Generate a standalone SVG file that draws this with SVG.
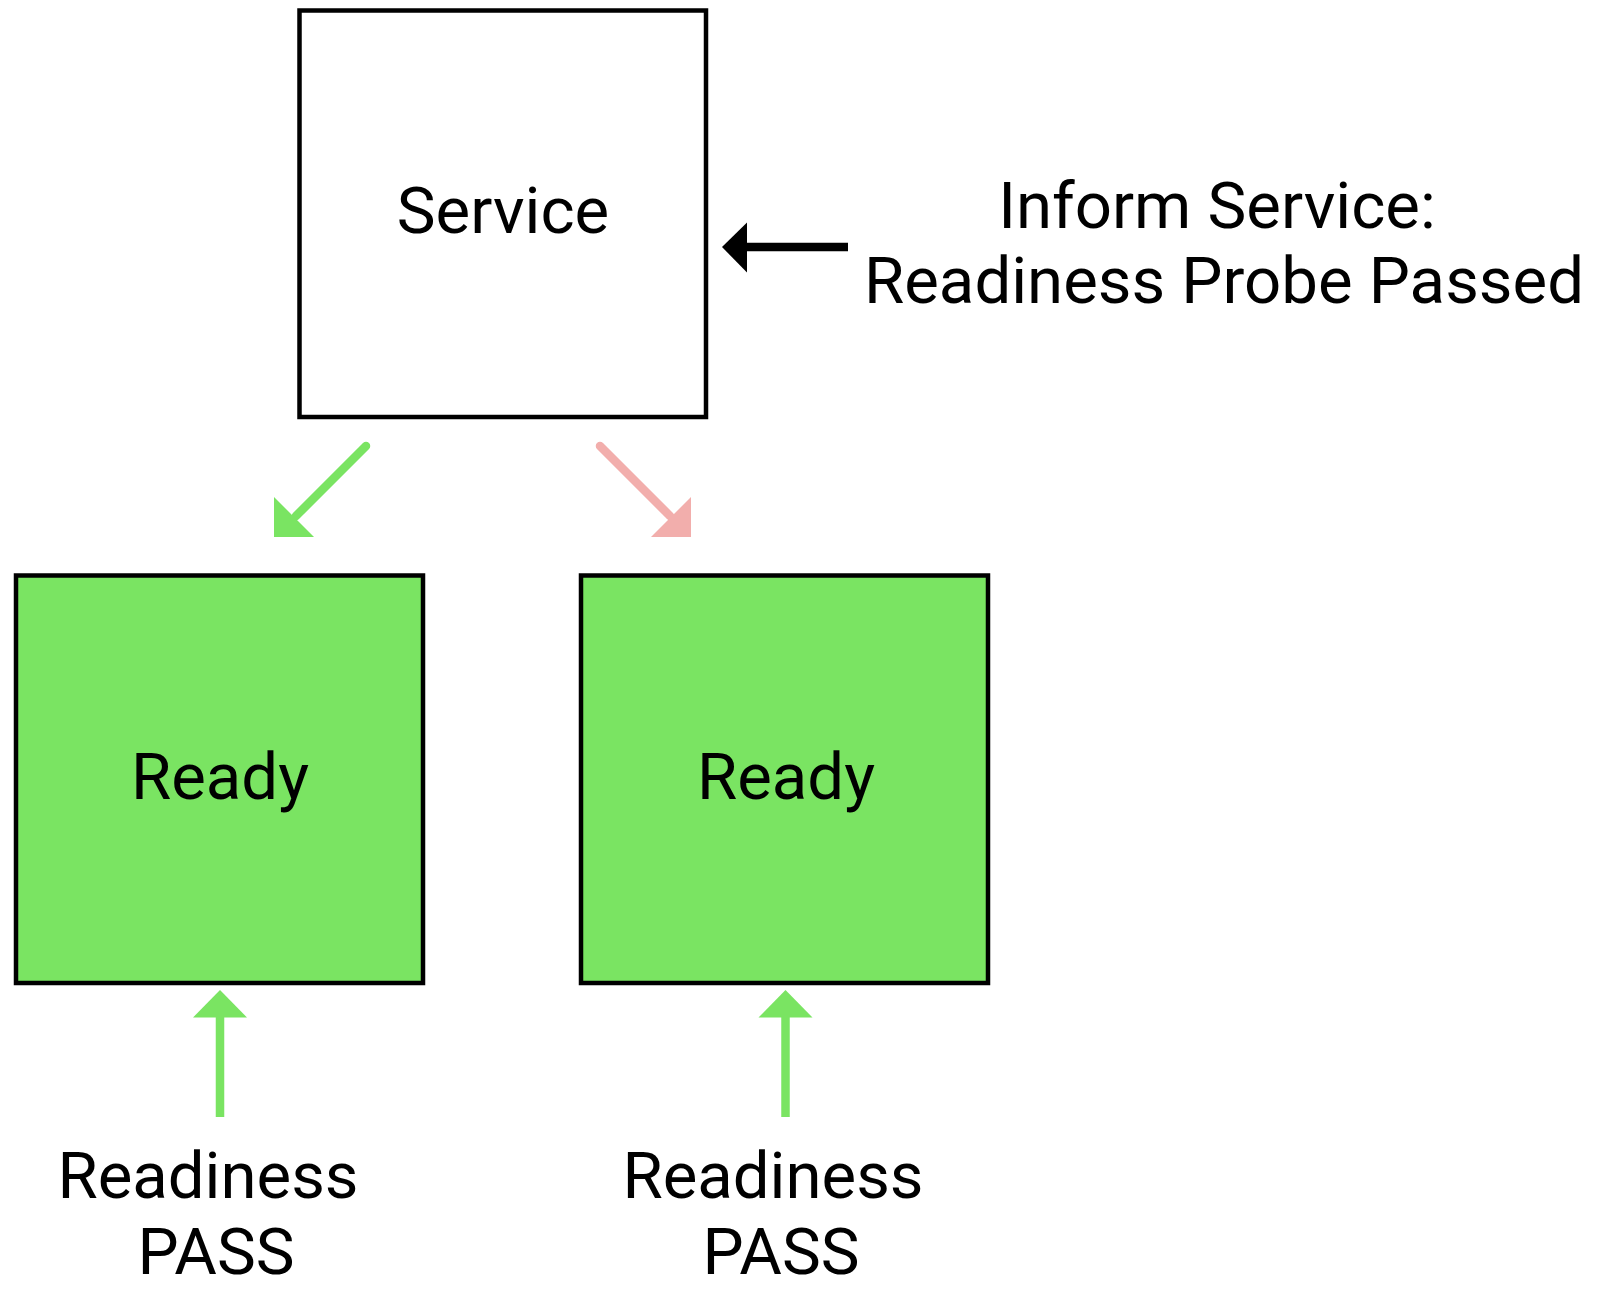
<svg xmlns="http://www.w3.org/2000/svg" width="1600" height="1290" viewBox="0 0 1600 1290">
<style>
text{font-family:Roboto,"Liberation Sans",sans-serif;font-size:65.3px;fill:#000;text-anchor:middle}
.box{stroke:#000;stroke-width:4.5}
.green{fill:#7AE462}
.gl{stroke:#7AE462;stroke-width:8.5;fill:none}
.rl{stroke:#F2AEAC;stroke-width:8.5;fill:none}
</style>
<rect width="1600" height="1290" fill="#fff"/>
<g id="service">
<rect class="box" x="299.5" y="10.5" width="406.5" height="406.5" fill="#fff"/>
<text x="503" y="233">Service</text>
</g>
<g id="pod1">
<rect class="box green" x="16" y="575.5" width="407" height="407.5"/>
<text x="220" y="799">Ready</text>
</g>
<g id="pod2">
<rect class="box green" x="581" y="575.5" width="407" height="407.5"/>
<text x="786" y="799">Ready</text>
</g>
<g id="inform-label">
<text x="1217" y="228">Inform Service:</text>
<text x="1224" y="303">Readiness Probe Passed</text>
</g>
<g id="probe1-label">
<text x="208" y="1198">Readiness</text>
<text x="216" y="1274">PASS</text>
</g>
<g id="probe2-label">
<text x="773" y="1198">Readiness</text>
<text x="781" y="1274">PASS</text>
</g>
<g id="connectors">
<line x1="848" y1="247" x2="740" y2="247" stroke="#000" stroke-width="8.5"/>
<polygon points="722,247 747,222.5 747,272.5" fill="#000"/>
<line class="gl" x1="366" y1="446" x2="296" y2="516" stroke-linecap="round"/>
<polygon points="274,497 274,537 314,537" fill="#7AE462"/>
<line class="rl" x1="600" y1="446" x2="670" y2="516" stroke-linecap="round"/>
<polygon points="691,497 691,537 651,537" fill="#F2AEAC"/>
<line class="gl" x1="220" y1="1117" x2="220" y2="1012"/>
<polygon points="220,990 193,1017.5 247,1017.5" fill="#7AE462"/>
<line class="gl" x1="785.5" y1="1117" x2="785.5" y2="1012"/>
<polygon points="785.5,990 758.5,1017.5 812.5,1017.5" fill="#7AE462"/>
</g>
</svg>
